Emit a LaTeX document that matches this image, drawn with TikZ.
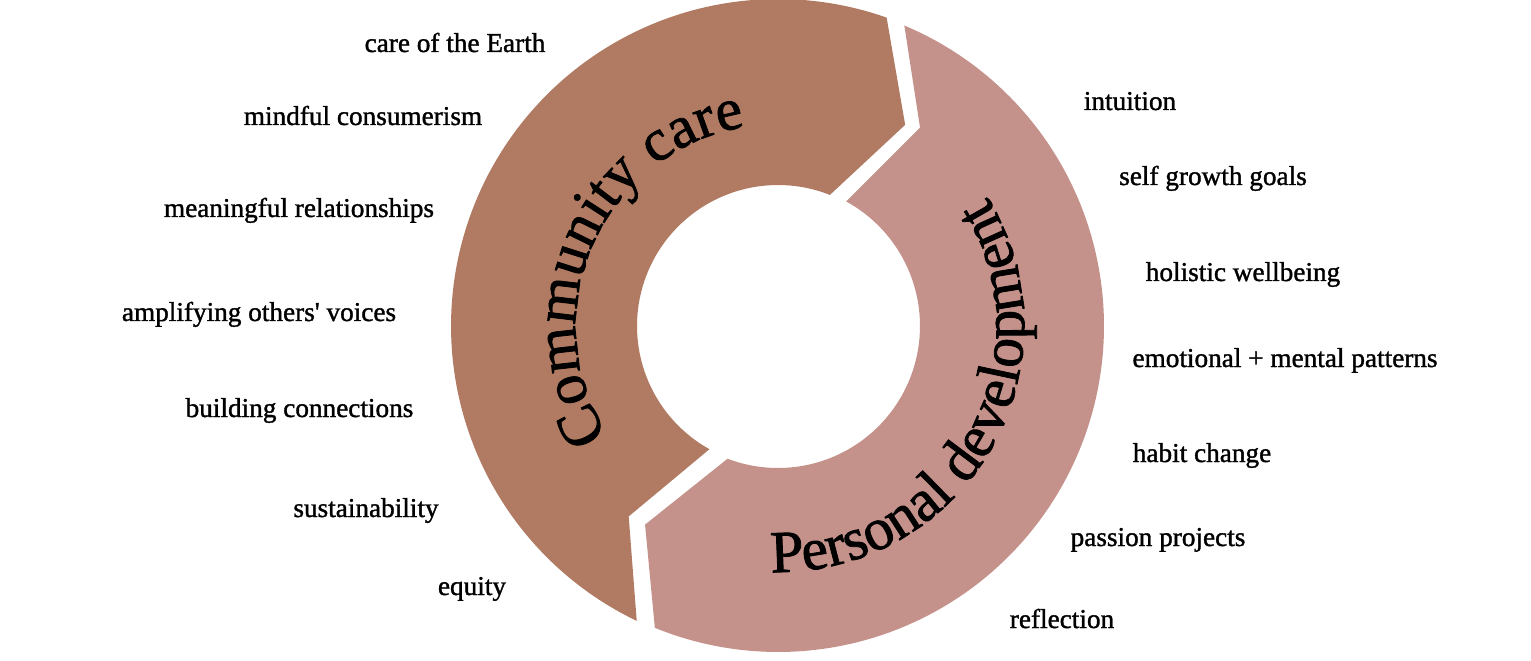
\documentclass[tikz,border=0pt]{standalone}
\usepackage{fontspec}
\setmainfont{Liberation Serif}
\newfontfamily\semib{Liberation Serif}[FakeBold=1.3]
\usetikzlibrary{decorations.text}
\definecolor{ccbrown}{HTML}{B07B62}
\definecolor{pdpink}{HTML}{C4928B}
\begin{document}
\begin{tikzpicture}[x=0.02cm,y=0.02cm,
  lbl/.style={anchor=base, inner sep=0pt, font=\semib\fontsize{15.5}{18}\selectfont},
  arctext/.style={decorate, decoration={text along path, text align=center, text={|\semib\fontsize{34}{34}\selectfont|#1}}}]
\useasboundingbox (0,0) rectangle (1531,660);
\begin{scope}[shift={(778,334)}]
  % Community care arrow
  \fill[ccbrown] (244.4:327) -- plot[domain=244.4:70.6, samples=120] (\x:327)
    -- (57.7:238) -- (68.4:141) -- plot[domain=68.4:240.9, samples=90] (\x:141)
    -- (231.9:242) -- cycle;
  % Personal development arrow
  \fill[pdpink] (67.2:326) -- plot[domain=67.2:-112.2, samples=120] (\x:326)
    -- (-123.8:239) -- (-110.8:142) -- plot[domain=-110.8:61.3, samples=90] (\x:142)
    -- (54.4:244) -- cycle;
  \path[arctext={Community care}] (226:202) arc[start angle=226, end angle=86, radius=4.04cm];
  \path[arctext={Personal development}] (-100:246) arc[start angle=-100, end angle=40, radius=4.92cm];
\end{scope}
\node[lbl] (l1) at (455,608) {care of the Earth};
\node[lbl] (l2) at (363,535) {mindful consumerism};
\node[lbl] (l3) at (299,443) {meaningful relationships};
\node[lbl] (l4) at (259,339) {amplifying others\textquotesingle{} voices};
\node[lbl] (l5) at (299.5,243) {building connections};
\node[lbl] (l6) at (366,143) {sustainability};
\node[lbl] (l7) at (472,65) {equity};
\node[lbl] (r1) at (1130,550) {intuition};
\node[lbl] (r2) at (1213,475) {self growth goals};
\node[lbl] (r3) at (1243,379) {holistic wellbeing};
\node[lbl] (r4) at (1285,293) {emotional + mental patterns};
\node[lbl] (r5) at (1202,198) {habit change};
\node[lbl] (r6) at (1158,114) {passion projects};
\node[lbl] (r7) at (1062,32) {reflection};
\end{tikzpicture}
\end{document}
